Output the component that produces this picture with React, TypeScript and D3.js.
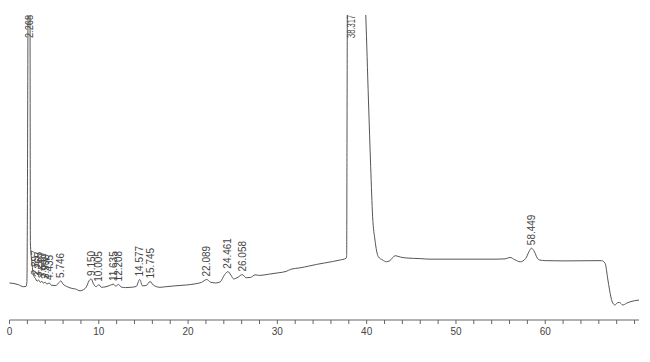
import React from "react";
import * as d3 from "d3";

// Chromatogram signal: retention time (min) and detector response (arbitrary units)
const times: number[] = [
  0, 0.5, 1.0, 1.55, 1.85, 1.95, 2.0, 2.05, 2.1, 2.268, 2.3, 2.34, 2.48, 2.65, 2.8,
  2.897, 3.08, 3.265, 3.45, 3.64, 3.8, 3.99, 4.2, 4.435, 4.7, 5.2, 5.5, 5.746, 6.0,
  6.4, 6.9, 7.4, 7.9, 8.3, 8.6, 8.9, 9.15, 9.4, 9.7, 10.005, 10.3, 10.8, 11.2, 11.635,
  11.9, 12.208, 12.5, 13.0, 13.6, 14.2, 14.577, 14.9, 15.3, 15.745, 16.1, 16.85, 17.5,
  18.5, 19.8, 20.8, 21.5, 22.089, 22.5, 23.1, 23.6, 24.1, 24.461, 24.8, 25.1, 25.6,
  26.058, 26.5, 27.0, 27.5, 28.0, 29.0, 30.1, 31.0, 31.5, 32.0, 32.5, 33.5, 34.4, 35.3,
  36.2, 37.0, 37.7, 37.76, 37.8, 37.85, 38.317, 39.5, 39.9, 40.2, 40.45, 40.67, 40.93,
  41.3, 41.8, 42.2, 42.6, 43.2, 43.8, 44.5, 46.0, 47.1, 54.5, 55.5, 56.05, 56.6, 57.2,
  57.8, 58.2, 58.449, 58.8, 59.1, 59.4, 60.0, 62.0, 66.3, 66.7, 67.0, 67.2, 67.5, 67.8,
  68.1, 68.3, 68.7, 69.1, 69.5, 70.5,
];
const signal: number[] = [
  7.6, 7.4, 7.0, 6.3, 6.4, 8.0, 30, 80, 120, 140, 100, 21.4, 15.5, 11.0, 9.5,
  9.2, 8.2, 8.6, 7.8, 8.2, 7.5, 7.9, 7.2, 7.6, 6.8, 6.7, 7.6, 8.3, 7.2,
  6.4, 5.8, 5.5, 4.9, 5.3, 6.2, 8.3, 9.0, 7.3, 6.3, 7.0, 6.1, 6.3, 6.7, 7.2,
  6.5, 7.1, 6.2, 6.0, 6.1, 6.4, 8.8, 6.6, 6.7, 8.1, 6.9, 6.1, 6.3,
  6.6, 6.9, 7.3, 7.8, 8.8, 7.9, 7.6, 8.0, 10.5, 11.5, 10.3, 9.0, 9.6,
  10.5, 9.4, 9.5, 10.4, 10.2, 10.6, 11.1, 11.6, 12.3, 12.6, 12.8, 13.4, 14.0, 14.5,
  15.0, 15.5, 16.1, 17.0, 60, 110, 135, 130, 100, 70.7, 47.7, 30.4, 22.4,
  16.7, 15.5, 14.9, 15.3, 17.0, 16.5, 16.2, 16.0, 15.8, 15.8, 15.9, 16.4, 15.6, 14.9,
  16.0, 18.5, 19.6, 18.3, 16.2, 15.5, 15.3, 15.2, 15.3, 14.4, 9.0, 5.2, 1.1, 0,
  0.8, 0.9, 0, 0.6, 1.1, 1.7,
];

// Labelled peaks (retention times)
const peakTimes: number[] = [
  2.268, 2.897, 3.265, 3.64, 3.99, 4.435, 5.746, 9.15, 10.005, 11.635, 12.208,
  14.577, 15.745, 22.089, 24.461, 26.058, 38.317, 58.449,
];
const peakLabels: string[] = [
  "2.268", "2.897", "3.265", "3.640", "3.990", "4.435", "5.746", "9.150", "10.005",
  "11.635", "12.208", "14.577", "15.745", "22.089", "24.461", "26.058", "38.317", "58.449",
];

const majorTicks: number[] = [0, 10, 20, 30, 40, 50, 60];
const minorTicks: number[] = d3.range(0, 71, 2);

const W = 650;
const H = 362;
const FONT = "'Liberation Sans', Arial, sans-serif";

export default function App() {
  const x = d3.scaleLinear().domain([0, 70.5]).range([9.5, 639]);
  const y = d3.scaleLinear().domain([0, 100]).range([305, 15]);
  const plotTop = y(100);
  const axisY = 320;

  const pts: [number, number][] = times.map((t, i) => [t, signal[i]]);
  const lineGen = d3
    .line<[number, number]>()
    .x((d) => x(d[0]))
    .y((d) => y(d[1]))
    .curve(d3.curveMonotoneX);
  const path = lineGen(pts) || "";

  const valueAt = (t: number) => {
    const i = times.findIndex((tt) => Math.abs(tt - t) < 1e-6);
    return i >= 0 ? signal[i] : 0;
  };

  return (
    <svg
      width={W}
      height={H}
      style={{ position: "absolute", left: 0, top: 0, background: "#fff", display: "block" }}
    >
      <defs>
        <clipPath id="plotClip">
          <rect x={0} y={plotTop} width={W} height={H - plotTop} />
        </clipPath>
      </defs>
      <rect x={0} y={0} width={W} height={H} fill="#fff" />
      <path d={path} fill="none" stroke="#555" strokeWidth={1} clipPath="url(#plotClip)" />
      {peakTimes.map((t, i) => {
        const v = valueAt(t);
        const clipped = v > 100;
        const by = clipped ? plotTop + 23 : y(v) - 3;
        return (
          <text
            key={i}
            transform={`translate(${x(t) + 3.5},${by}) rotate(-90)`}
            fontFamily={FONT}
            fontSize={10}
            fill="#444"
            textLength={clipped ? 23 : undefined}
            lengthAdjust={clipped ? "spacingAndGlyphs" : undefined}
          >
            {peakLabels[i]}
          </text>
        );
      })}
      <line x1={x(0)} x2={x(70.5)} y1={axisY} y2={axisY} stroke="#666" strokeWidth={1} />
      {minorTicks.map((t) => (
        <line key={t} x1={x(t)} x2={x(t)} y1={axisY} y2={axisY + 4} stroke="#666" strokeWidth={1} />
      ))}
      {majorTicks.map((t) => (
        <text
          key={t}
          x={x(t)}
          y={axisY + 15}
          textAnchor="middle"
          fontFamily={FONT}
          fontSize={10}
          fill="#444"
        >
          {t}
        </text>
      ))}
    </svg>
  );
}
